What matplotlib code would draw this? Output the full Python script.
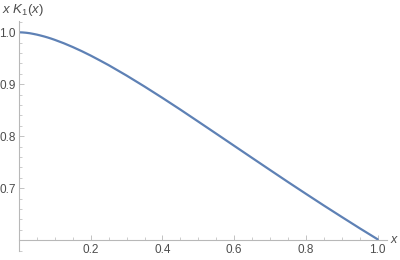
import matplotlib
matplotlib.use("Agg")
import matplotlib.pyplot as plt
from matplotlib.ticker import MultipleLocator

# values of x K1(x)
x_vals = [0.0, 0.01, 0.02, 0.03, 0.04, 0.05, 0.06, 0.07, 0.08, 0.09, 0.1, 0.125,
          0.15, 0.175, 0.2, 0.225, 0.25, 0.3, 0.35, 0.4, 0.45, 0.5, 0.55, 0.6,
          0.65, 0.7, 0.75, 0.8, 0.85, 0.9, 0.95, 1.0]
y_vals = [1.0, 0.9997, 0.9991, 0.9982, 0.9969, 0.9955, 0.9938, 0.9920, 0.9900,
          0.9878, 0.9854, 0.9789, 0.9716, 0.9637, 0.9552, 0.9461, 0.9368, 0.9168,
          0.8957, 0.8738, 0.8513, 0.8282, 0.8050, 0.7817, 0.7584, 0.7352, 0.7121,
          0.6894, 0.6669, 0.6449, 0.6231, 0.6019]

x_ticks = [0.2, 0.4, 0.6, 0.8, 1.0]
y_ticks = [0.7, 0.8, 0.9, 1.0]

axis_col = "#b8b8b8"
text_col = "#4d4d4d"

plt.rcParams["font.family"] = ["Liberation Sans", "DejaVu Sans"]
plt.rcParams["mathtext.fontset"] = "custom"
plt.rcParams["mathtext.it"] = "Liberation Sans:italic"
plt.rcParams["mathtext.rm"] = "Liberation Sans"

fig = plt.figure(figsize=(4, 2.6), dpi=100)
ax = fig.add_axes([0.0475, 0.0346, 0.919, 0.8846])

ax.plot(x_vals, y_vals, color="#5e81b5", linewidth=1.6, solid_capstyle="round")

ax.set_xlim(0, 1.025)
ax.set_ylim(0.5794, 1.0217)

for s in ["top", "right"]:
    ax.spines[s].set_visible(False)
ax.spines["left"].set_position(("data", 0))
ax.spines["bottom"].set_position(("data", 0.6))
for s in ["left", "bottom"]:
    ax.spines[s].set_color(axis_col)
    ax.spines[s].set_linewidth(0.8)

ax.set_xticks(x_ticks)
ax.set_xticklabels([f"{v:.1f}" for v in x_ticks])
ax.set_yticks(y_ticks)
ax.set_yticklabels([f"{v:.1f}" for v in y_ticks])
ax.xaxis.set_minor_locator(MultipleLocator(0.05))
ax.yaxis.set_minor_locator(MultipleLocator(0.02))

ax.tick_params(which="major", direction="in", length=3.5, width=0.6, color=axis_col,
               labelsize=8.5, labelcolor=text_col, pad=2.5)
ax.tick_params(which="minor", direction="in", length=2, width=0.5, color=axis_col)

fig.text(0.005, 0.962, r"$x\ K_1(x)$", color=text_col, fontsize=9.5,
         ha="left", va="center")
ax.text(1.035, 0.6, r"$x$", color=text_col, fontsize=9, ha="left", va="center",
        clip_on=False)

plt.savefig("out.png", dpi=100)
plt.close()
